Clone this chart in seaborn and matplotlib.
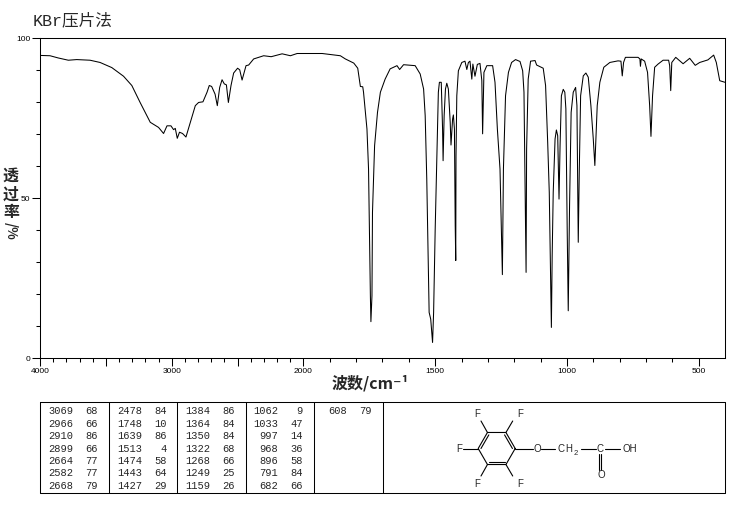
import numpy as np
import pandas as pd
import matplotlib
matplotlib.use("Agg")
import matplotlib.pyplot as plt
import seaborn as sns

# spectrum
wavenumber = [4000, 3924, 3861, 3785, 3721, 3620, 3544, 3455, 3366, 3303, 3240, 3163, 3100, 3062, 3036, 3006,
              2986, 2973, 2958, 2941, 2918, 2892, 2859, 2821, 2796, 2763, 2732, 2715, 2697, 2671, 2654, 2636,
              2618, 2601, 2585, 2570, 2550, 2530, 2500, 2484, 2466, 2436, 2416, 2378, 2302, 2245, 2162, 2099,
              2048, 1929, 1860, 1841, 1809, 1794, 1784, 1775,
              1772, 1759, 1753, 1746, 1744, 1740, 1738, 1730, 1719, 1708, 1690, 1671, 1645, 1635, 1620, 1576,
              1557, 1544, 1538, 1532, 1525, 1523, 1517, 1510, 1506, 1500, 1494, 1488, 1484, 1477, 1472, 1470,
              1466, 1461, 1456, 1450, 1443, 1440, 1434, 1431, 1427, 1424, 1422, 1421, 1418, 1412, 1399, 1387,
              1380, 1374, 1368, 1361, 1357, 1349, 1340, 1330, 1323, 1320, 1315, 1304, 1282, 1273, 1264, 1254,
              1245, 1241, 1233, 1222, 1210, 1195, 1178, 1168, 1163, 1155, 1153, 1147, 1138, 1121,
              1115, 1090, 1081, 1073, 1067, 1063, 1059, 1056, 1052, 1045, 1040, 1035, 1030, 1026, 1021, 1014,
              1008, 1004, 999, 995, 990, 984, 976, 967, 962, 957, 953, 948, 938, 928, 919, 909, 900, 894, 885,
              875, 860, 837, 806, 795, 790, 785, 778, 730, 723, 721, 718, 705, 694, 686, 681, 675, 667, 654,
              635, 614, 610, 606, 602, 587, 559, 534, 513, 496, 465, 443, 433, 420, 400]
transmittance = [94.4, 94.3, 93.6, 92.9, 93.1, 92.9, 92.2, 90.6, 87.9, 85.0, 79.7, 73.5, 71.9, 70.0, 72.4, 72.4,
                 71.2, 71.6, 68.5, 70.4, 70.0, 68.9, 73.5, 78.7, 79.7, 79.9, 82.9, 85.0, 84.7, 82.3, 78.7, 84.4,
                 86.8, 85.5, 85.2, 79.7, 85.0, 88.9, 90.4, 89.9, 86.7, 91.2, 91.4, 93.3, 94.3, 94.0, 94.9, 94.3,
                 95.0, 95.0, 94.3, 93.3, 92.0, 90.4, 84.7, 84.6,
                 82.9, 71.4, 58.9, 19.3, 11.2, 19.3, 45.4, 66.2, 76.6, 82.9, 87.0, 90.2, 91.2, 90.0, 91.5, 91.2,
                 88.6, 83.9, 75.6, 55.8, 23.5, 14.1, 12.0, 4.7, 14.1, 40.2, 61.0, 82.9, 86.0, 86.0, 71.4, 61.5,
                 75.6, 83.9, 85.7, 83.9, 73.5, 66.4, 74.5, 75.8, 71.4, 41.2, 30.3, 63.0, 81.8, 89.6, 92.2, 92.6,
                 90.0, 92.2, 92.6, 87.0, 91.7, 87.9, 91.6, 91.9, 86.5, 69.9, 89.1, 91.2, 91.2, 86.0, 71.4, 58.9,
                 25.9, 58.9, 81.8, 89.1, 92.2, 93.1, 92.5, 89.6, 82.9, 26.6, 65.2, 87.0, 92.6, 92.8,
                 91.4, 90.4, 85.0, 67.2, 51.6, 30.8, 9.4, 31.8, 51.6, 68.3, 71.1, 69.3, 49.5, 66.2, 81.8, 83.8,
                 82.9, 77.7, 40.2, 14.6, 47.4, 76.6, 82.9, 84.4, 78.7, 36.0, 58.9, 81.8, 88.0, 88.9, 87.6, 78.7,
                 68.3, 60.0, 78.7, 86.0, 90.7, 92.2, 92.7, 92.6, 88.0, 92.2, 93.8, 93.8, 93.3, 91.0, 93.3, 92.6,
                 89.1, 78.7, 69.1, 81.8, 90.7, 91.7, 92.9, 92.9, 91.2, 83.4, 92.2, 93.8, 91.8, 93.5, 91.3, 92.2,
                 93.0, 94.5, 92.2, 86.5, 86.0]

# peak table
peak_columns = [
    ["3069", "2966", "2910", "2899", "2664", "2582", "2668"],
    ["2478", "1748", "1639", "1513", "1474", "1443", "1427"],
    ["1384", "1364", "1350", "1322", "1268", "1249", "1159"],
    ["1062", "1033", "997", "968", "896", "791", "682"],
    ["608"],
]
value_columns = [
    ["68", "66", "86", "66", "77", "77", "79"],
    ["84", "10", "86", "4", "58", "64", "29"],
    ["86", "84", "84", "68", "66", "25", "26"],
    ["9", "47", "14", "36", "58", "84", "66"],
    ["79"],
]

x_labelled = [4000, 3000, 2000, 1500, 1000, 500]

W, H = 737, 510
CJK = ['Noto Sans CJK SC', 'DejaVu Sans']

sns.set_style("ticks")
plt.rcParams['font.family'] = ['Liberation Sans', 'Noto Sans CJK SC', 'DejaVu Sans']

fig = plt.figure(figsize=(W / 100, H / 100), dpi=100)
ax = fig.add_axes([40 / W, 1 - 358.5 / H, 685 / W, 320 / H])

df = pd.DataFrame({"wn": wavenumber, "T": transmittance})
sns.lineplot(data=df, x="wn", y="T", sort=False, estimator=None, color="black", linewidth=0.75, ax=ax)


# the axis is compressed by two above 2000 cm-1
def forward(w):
    w = np.asarray(w, dtype=float)
    return np.where(w > 2000, 2000 + (w - 2000) / 2, w)


def inverse(u):
    u = np.asarray(u, dtype=float)
    return np.where(u > 2000, 2000 + (u - 2000) * 2, u)


ax.set_xscale("function", functions=(forward, inverse))
ax.set_xlim(4000, 400)
ax.set_ylim(0, 100)

major = np.arange(500, 4001, 500)
ax.set_xticks(major)
ax.set_xticklabels([str(m) if m in x_labelled else "" for m in major])
ax.set_xticks(np.arange(500, 4001, 100), minor=True)
ax.set_yticks([0, 50, 100])
ax.set_yticks(np.arange(0, 101, 10), minor=True)
ax.tick_params(axis="both", which="major", length=5.5, width=0.75, labelsize=6, pad=1.5, color="black", labelcolor="black")
ax.tick_params(axis="both", which="minor", length=3, width=0.75, color="black")
ax.set_xlabel("")
ax.set_ylabel("")
for s in ax.spines.values():
    s.set_visible(True)
    s.set_linewidth(0.75)
    s.set_color("black")

# overlay in pixel coordinates for the labels, peak table and structure
ov = fig.add_axes([0, 0, 1, 1], facecolor="none")
ov.set_xlim(0, W)
ov.set_ylim(H, 0)
ov.axis("off")

ov.text(33, 20, "KBr压片法", fontsize=12, family=['Liberation Mono', 'Noto Sans CJK SC'], va="center", ha="left")
ov.text(370, 383, "波数/cm⁻¹", fontsize=11.5, family=CJK, fontweight="bold", ha="center", va="center")
for ch, yy in zip("透过率", [176, 194.5, 212.5]):
    ov.text(11, yy, ch, fontsize=11.5, family=CJK, fontweight="bold", ha="center", va="center")
ov.text(11, 231, "/%", fontsize=9.5, family=CJK, fontweight="bold", rotation=270, ha="center", va="center")

# peak table frame
ov.plot([40.5, 725.5, 725.5, 40.5, 40.5], [403, 403, 494, 494, 403], color="black", lw=0.75)
for xs in [109, 177, 246.5, 314.5, 383.5]:
    ov.plot([xs, xs], [403, 494], color="black", lw=0.75)

col_right = [(73, 98), (142, 167), (210, 235), (278, 303), (347, 372)]
for (xa, xb), peaks, vals in zip(col_right, peak_columns, value_columns):
    for i, (p, v) in enumerate(zip(peaks, vals)):
        yy = 411.5 + i * 12.35
        ov.text(xa, yy, p, fontsize=7.5, family="Liberation Mono", ha="right", va="center")
        ov.text(xb, yy, v, fontsize=7.5, family="Liberation Mono", ha="right", va="center")

# structure: ring
cx, cy = 496.7, 449.5
ang = np.deg2rad(np.arange(0, 360, 60))
rx = 18.5 * np.cos(ang) + cx
ry = 18.5 * np.sin(ang) + cy
ov.plot(np.r_[rx, rx[0]], np.r_[ry, ry[0]], color="black", lw=0.8)
# inner bonds of the ring
for a, b in [(3, 4), (5, 0), (1, 2)]:
    ov.plot([cx + (rx[a] - cx) * 0.85, cx + (rx[b] - cx) * 0.85],
            [cy + (ry[a] - cy) * 0.85, cy + (ry[b] - cy) * 0.85], color="black", lw=0.8)

bonds = [((rx[4], ry[4]), (481, 422)), ((rx[5], ry[5]), (512.7, 422)),
         ((rx[3], ry[3]), (463.5, 449.5)), ((rx[2], ry[2]), (481, 477)),
         ((rx[1], ry[1]), (512.7, 477)),
         ((rx[0], ry[0]), (533, 449.5)), ((541.5, 449.5), (555, 449.5)),
         ((581.5, 449.5), (596.5, 449.5)), ((605, 449.5), (620.5, 449.5)),
         ((599, 455), (599, 471)), ((601.5, 455), (601.5, 471))]
for (x0, y0), (x1, y1) in bonds:
    ov.plot([x0, x1], [y0, y1], color="black", lw=0.8)

atoms = [("F", 476.7, 414, 7), ("F", 520, 414, 7), ("F", 459.3, 449.5, 7), ("F", 476.7, 484, 7), ("F", 520, 484, 7),
         ("O", 537.3, 449.5, 7), ("C", 561, 449.5, 7), ("H", 568.5, 449.5, 7), ("2", 575.7, 453.5, 5.5),
         ("C", 600.5, 449.5, 7), ("OH", 629.5, 449.5, 7), ("O", 601, 475.5, 7)]
for s, xx, yy, fs in atoms:
    ov.text(xx, yy, s, fontsize=fs, family="Liberation Sans", ha="center", va="center")

plt.savefig("out.png", dpi=100)
